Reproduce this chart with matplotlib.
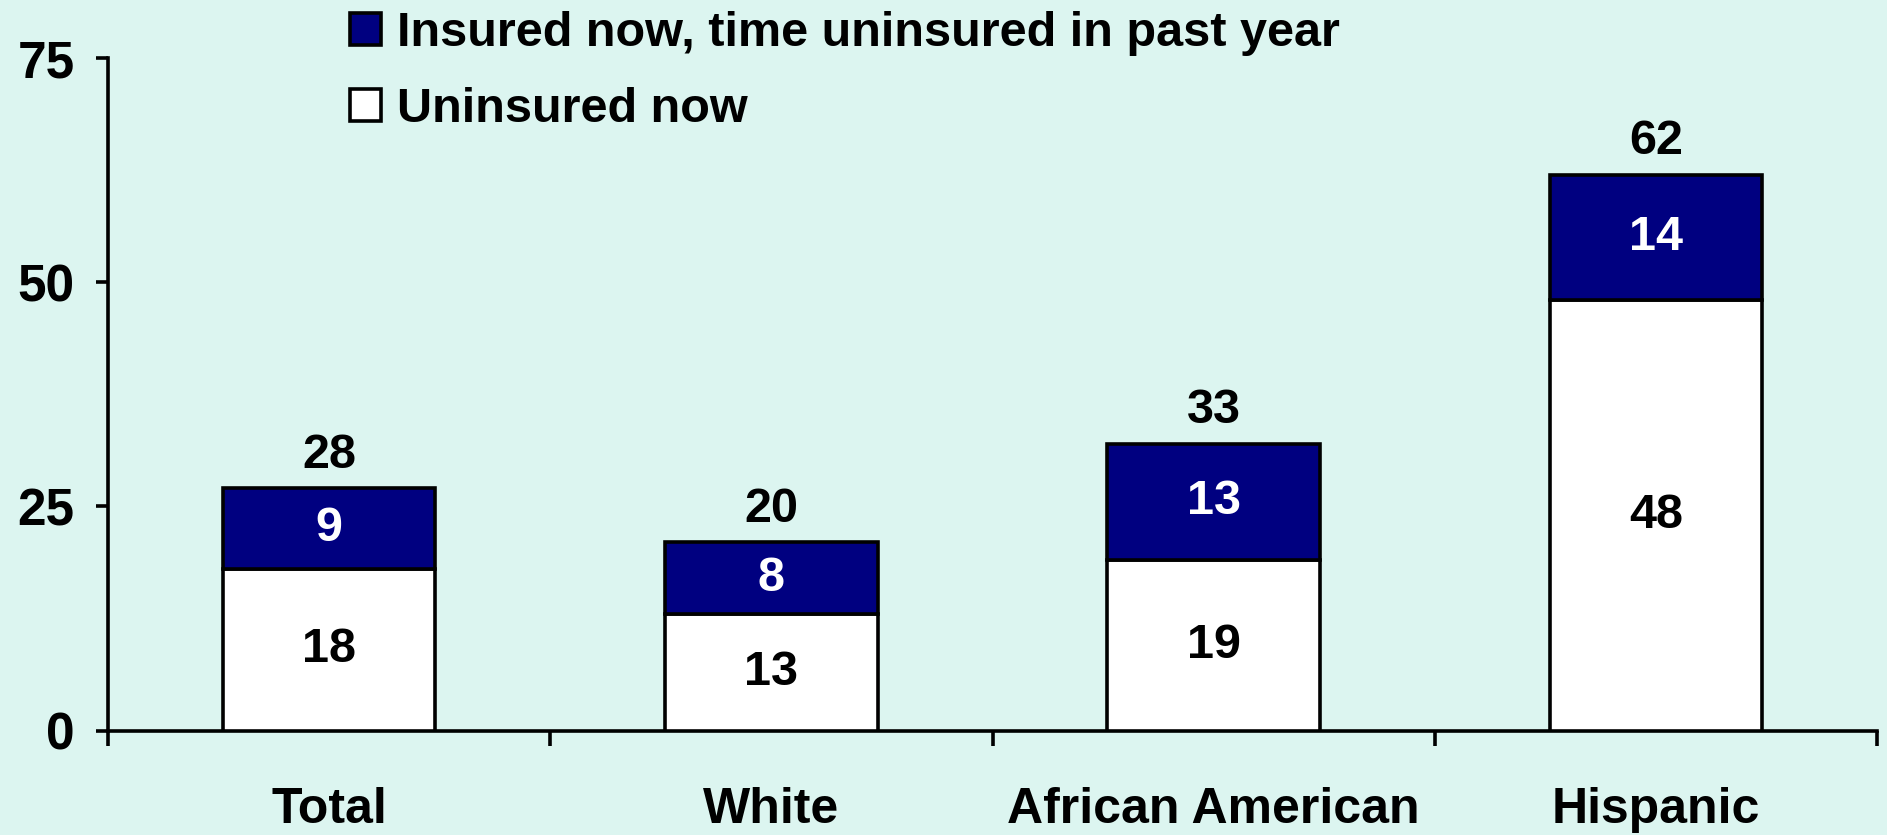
import matplotlib.pyplot as plt
from matplotlib.patches import Patch

categories = ["Total", "White", "African American", "Hispanic"]
uninsured_now = [18, 13, 19, 48]
insured_gap = [9, 8, 13, 14]
total_labels = [28, 20, 33, 62]
y_ticks = [0, 25, 50, 75]

bg = "#DCF5F0"
navy = "#000080"
fs = 35

plt.rcParams["font.family"] = ["Liberation Sans", "DejaVu Sans"]
plt.rcParams["font.weight"] = "bold"

fig = plt.figure(figsize=(18.87, 8.35), dpi=100, facecolor=bg)
ax = fig.add_axes([108 / 1887, 1 - 730.5 / 835, (1877 - 108) / 1887, (730.5 - 58) / 835])
ax.set_facecolor(bg)

x = range(len(categories))
ax.bar(x, uninsured_now, width=0.48,
       color="white", edgecolor="black", linewidth=2.6, zorder=3)
ax.bar(x, insured_gap, width=0.48, bottom=uninsured_now,
       color=navy, edgecolor="black", linewidth=2.6, zorder=3)

for i in x:
    ax.text(i, uninsured_now[i] / 2, str(uninsured_now[i]),
            ha="center", va="center", fontsize=fs, fontweight="bold", color="black", zorder=4)
    ax.text(i, uninsured_now[i] + insured_gap[i] / 2, str(insured_gap[i]),
            ha="center", va="center", fontsize=fs, fontweight="bold", color="white", zorder=4)
    ax.text(i, uninsured_now[i] + insured_gap[i] + 3.7, str(total_labels[i]),
            ha="center", va="center", fontsize=fs, fontweight="bold", color="black", zorder=4)

ax.set_xlim(-0.5, len(categories) - 0.5)
ax.set_ylim(0, 75)

ax.spines["top"].set_visible(False)
ax.spines["right"].set_visible(False)
ax.spines["left"].set_linewidth(2.6)
ax.spines["bottom"].set_linewidth(2.6)

ax.set_yticks(y_ticks)
ax.set_yticklabels([str(v) for v in y_ticks], fontsize=37, fontweight="bold")
ax.tick_params(axis="y", direction="out", length=9, width=2.6, pad=15)

ax.set_xticks(list(x))
ax.set_xticklabels(categories, fontsize=36, fontweight="bold")
ax.set_xticks([i - 0.5 for i in range(len(categories) + 1)], minor=True)
ax.tick_params(axis="x", which="major", length=0, pad=41)
ax.tick_params(axis="x", which="minor", direction="out", length=11, width=2.6)

handles = [
    Patch(facecolor=navy, edgecolor="black", linewidth=2.6),
    Patch(facecolor="white", edgecolor="black", linewidth=2.6),
]
labels = ["Insured now, time uninsured in past year", "Uninsured now"]
fig.legend(
    handles, labels, loc="upper left", bbox_to_anchor=(350 / 1887, 1 - 11 / 835),
    frameon=False, prop={"weight": "bold", "size": fs},
    handlelength=0.645, handleheight=0.645, handletextpad=0.32,
    labelspacing=0.64, borderpad=0, borderaxespad=0
)

fig.savefig("out.png", dpi=100, facecolor=bg)
